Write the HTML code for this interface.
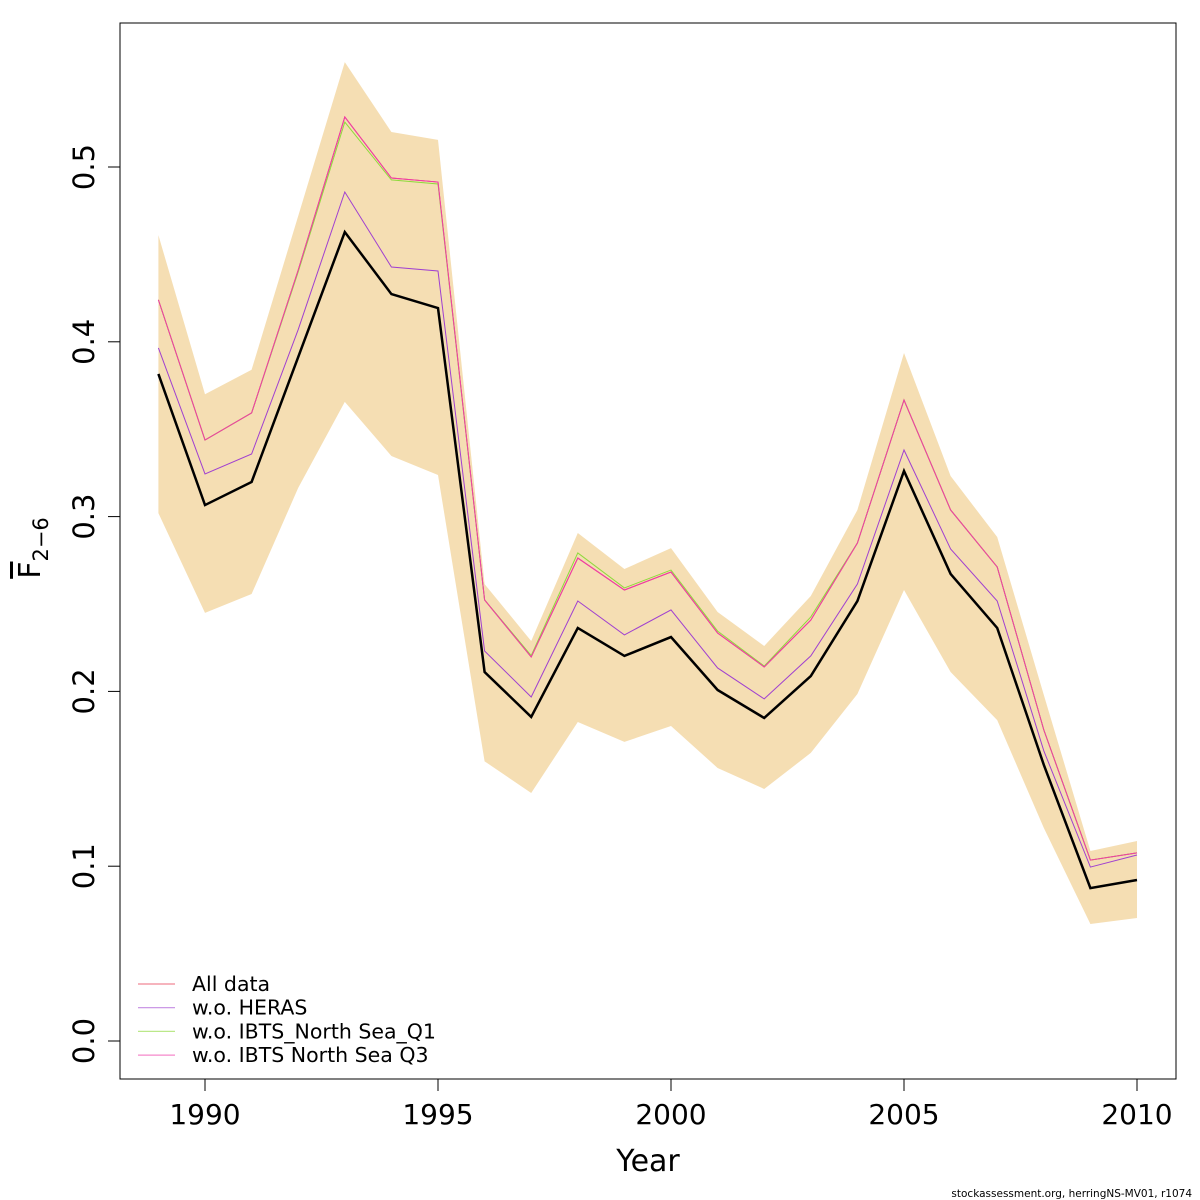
<!DOCTYPE html>
<html><head><meta charset="utf-8"><style>
body{margin:0;background:#fff}
svg{display:block;font-family:"DejaVu Sans","Liberation Sans",sans-serif}
</style></head><body>
<svg id="chart" width="1200" height="1200">
<rect x="120" y="23" width="1056" height="1056" fill="none" stroke="#000" stroke-width="1"/>
<g id="band"></g><g id="lines"></g><g id="axes"></g><g id="legend"></g>
<text x="648" y="1171" font-size="30" text-anchor="middle">Year</text>
<text transform="translate(40,548) rotate(-90)" font-size="30" text-anchor="middle"><tspan text-decoration="overline">F</tspan><tspan font-size="21" dy="8">2−6</tspan></text>
<text x="1192" y="1197" font-size="10.5" text-anchor="end">stockassessment.org, herringNS-MV01, r1074</text>
</svg>
<script>
const years=[1989,1990,1991,1992,1993,1994,1995,1996,1997,1998,1999,2000,2001,2002,2003,2004,2005,2006,2007,2008,2009,2010];
const mainFbar=[0.3816,0.3066,0.3198,0.3913,0.4628,0.4273,0.4193,0.2111,0.1854,0.2363,0.2203,0.2311,0.2008,0.1848,0.2088,0.2517,0.3261,0.2672,0.2363,0.158,0.0875,0.0921];
const upperCI=[0.461,0.370,0.384,0.472,0.560,0.520,0.5155,0.2614,0.2288,0.2906,0.270,0.282,0.2454,0.226,0.2546,0.3038,0.3936,0.3232,0.2883,0.198,0.1087,0.1144];
const lowerCI=[0.302,0.2449,0.2557,0.3164,0.3656,0.3347,0.3238,0.160,0.1419,0.1825,0.1711,0.1802,0.1562,0.1442,0.1648,0.1985,0.258,0.2111,0.1836,0.1219,0.0669,0.0704];
const allData=[0.424,0.3438,0.3593,0.441,0.5286,0.4937,0.4914,0.2523,0.2197,0.2763,0.258,0.2683,0.2334,0.214,0.2408,0.2849,0.3667,0.3038,0.2712,0.178,0.1035,0.1076];
const woHERAS=[0.3965,0.3244,0.3358,0.407,0.4857,0.4428,0.4405,0.2231,0.1968,0.2517,0.2323,0.2466,0.2134,0.1957,0.2203,0.2614,0.3381,0.2815,0.2517,0.166,0.0995,0.1064];
const woQ1=[0.424,0.3438,0.3593,0.440,0.5257,0.4926,0.4903,0.2523,0.2205,0.2792,0.2592,0.2694,0.2345,0.2145,0.2426,0.2849,0.3667,0.3038,0.2712,0.178,0.1035,0.1076];
const woQ3=[0.424,0.3438,0.3593,0.441,0.5286,0.4937,0.4914,0.2523,0.2197,0.2763,0.258,0.2683,0.2334,0.214,0.2408,0.2849,0.3667,0.3038,0.2712,0.178,0.1035,0.1076];
const xTicks=[1990,1995,2000,2005,2010];
const yTicks=[0,0.1,0.2,0.3,0.4,0.5];
const seriesNames=["All data","w.o. HERAS","w.o. IBTS_North Sea_Q1","w.o. IBTS North Sea Q3"];
const seriesColors=["#E8384F","#A040D0","#8FD93C","#F03CAA"];
const NS="http://www.w3.org/2000/svg";
const X=y=>205+(y-1990)*46.6;
const Y=v=>1041-v*1748;
function mk(tag,attrs,parent){const e=document.createElementNS(NS,tag);for(const k in attrs)e.setAttribute(k,attrs[k]);parent.appendChild(e);return e;}
const band=document.getElementById('band');
let d=years.map((y,i)=>(i?'L':'M')+X(y)+','+Y(upperCI[i])).join('')+years.slice().reverse().map((y,j)=>'L'+X(y)+','+Y(lowerCI[years.length-1-j])).join('')+'Z';
const bp=mk('path',{d:d,fill:'#F5DEB3'},band);


const lines=document.getElementById('lines');
const sers=[allData,woHERAS,woQ1,woQ3];
const snames=['line-all-data','line-wo-heras','line-wo-ibts-q1','line-wo-ibts-q3'];
sers.forEach((s,k)=>{
 const p=mk('path',{d:years.map((y,i)=>(i?'L':'M')+X(y)+','+Y(s[i])).join(''),fill:'none',stroke:seriesColors[k],'stroke-width':1},lines);
 
 
});
const ml=mk('path',{d:years.map((y,i)=>(i?'L':'M')+X(y)+','+Y(mainFbar[i])).join(''),fill:'none',stroke:'#000','stroke-width':2.5},lines);


const ax=document.getElementById('axes');
xTicks.forEach(t=>{
 mk('line',{x1:X(t),x2:X(t),y1:1079,y2:1091,stroke:'#000'},ax);
 const tx=mk('text',{x:X(t),y:1124,'font-size':28,'text-anchor':'middle'},ax);
 tx.textContent=t;
 
 
});
yTicks.forEach(t=>{
 mk('line',{x1:108,x2:120,y1:Y(t),y2:Y(t),stroke:'#000'},ax);
 const tx=mk('text',{transform:`translate(94,${Y(t)}) rotate(-90)`,'font-size':29,'text-anchor':'middle'},ax);
 tx.textContent=t.toFixed(1);
 
 
});
const lg=document.getElementById('legend');
seriesNames.forEach((n,k)=>{
 const yy=984+k*23.7;
 mk('line',{x1:138,x2:175,y1:yy,y2:yy,stroke:seriesColors[k],'stroke-width':1.2,opacity:0.6},lg);
 const tx=mk('text',{x:192,y:yy+7,'font-size':20.5},lg);
 tx.textContent=n;
 
 
});
</script>
</body></html>
